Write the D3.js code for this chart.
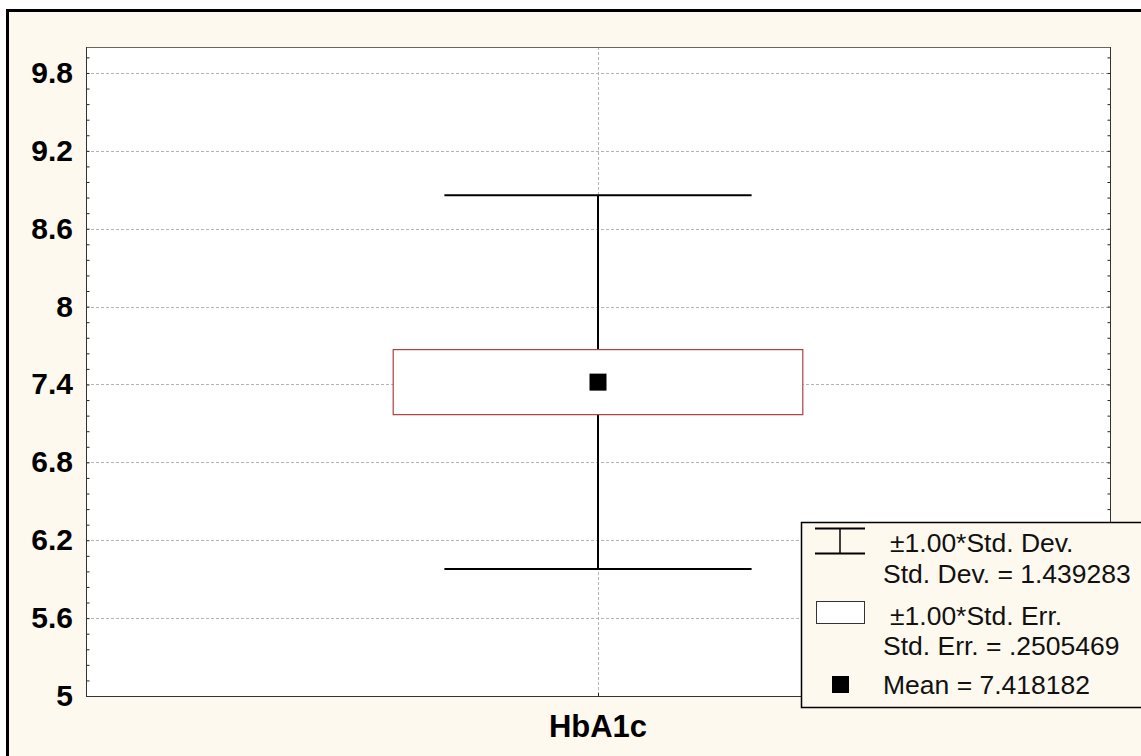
<!doctype html>
<html>
<head>
<meta charset="utf-8"/>
<title>HbA1c</title>
<style>
body{margin:0;background:#fff;}
svg{display:block;font-family:"Liberation Sans",Arial,sans-serif;}
</style>
<script src="https://d3js.org/d3.v7.min.js"></script>
</head>
<body>
<script>
// data
var categories = ["HbA1c"];
var means = [7.418182];
var stdDevs = [1.439283];
var stdErrs = [0.2505469];
var yTicks = [5, 5.6, 6.2, 6.8, 7.4, 8, 8.6, 9.2, 9.8];
var yDomain = [5, 10];

var W = 1141, H = 756;
var plot = {left: 86, top: 47, right: 1110, bottom: 696};

var svg = d3.select("body").append("svg")
  .attr("width", W).attr("height", H);

// outer cream frame
svg.append("rect")
  .attr("x", 7.5).attr("y", 10.5)
  .attr("width", W + 20).attr("height", H + 20)
  .attr("fill", "#fef9ef")
  .attr("stroke", "#000").attr("stroke-width", 3);

var y = d3.scaleLinear().domain(yDomain).range([plot.bottom, plot.top]);
var x = d3.scaleBand().domain(categories).range([plot.left, plot.right]);
var bw = x.bandwidth();
var cx = function(d){ return x(d) + bw / 2; };

svg.append("rect")
  .attr("x", plot.left).attr("y", plot.top)
  .attr("width", plot.right - plot.left).attr("height", plot.bottom - plot.top)
  .attr("fill", "#fff");

// grid
svg.append("g").selectAll("line")
  .data(yTicks.filter(function(d){ return d > yDomain[0]; }))
  .enter().append("line")
  .attr("x1", plot.left).attr("x2", plot.right)
  .attr("y1", function(d){ return Math.round(y(d)) + 0.5; })
  .attr("y2", function(d){ return Math.round(y(d)) + 0.5; })
  .attr("stroke", "#b4b4b4").attr("stroke-dasharray", "3,2");

svg.append("g").selectAll("line")
  .data(categories).enter().append("line")
  .attr("x1", function(d){ return Math.round(cx(d)) + 0.5; })
  .attr("x2", function(d){ return Math.round(cx(d)) + 0.5; })
  .attr("y1", plot.top).attr("y2", plot.bottom)
  .attr("stroke", "#b4b4b4").attr("stroke-dasharray", "3,2");

// axes (left, right with inside ticks)
var minor = d3.range(0, 42).map(function(i){ return +(5 + i * 0.12).toFixed(2); });

var left = d3.axisRight(y).tickValues(minor).tickSize(3).tickFormat("");
svg.append("g").attr("transform", "translate(" + (plot.left + 0.5) + ",0)").call(left)
  .call(function(g){ g.select(".domain").remove(); });
var right = d3.axisLeft(y).tickValues(minor).tickSize(3).tickFormat("");
svg.append("g").attr("transform", "translate(" + (plot.right + 0.5) + ",0)").call(right)
  .call(function(g){ g.select(".domain").remove(); });
svg.selectAll(".tick line").attr("stroke", "#222");

// frame of the plot area
svg.append("line").attr("x1", plot.left).attr("x2", plot.right)
  .attr("y1", plot.top + 0.5).attr("y2", plot.top + 0.5).attr("stroke", "#666");
svg.append("line").attr("x1", plot.left + 0.5).attr("x2", plot.left + 0.5)
  .attr("y1", plot.top).attr("y2", plot.bottom).attr("stroke", "#333");
svg.append("line").attr("x1", plot.right + 0.5).attr("x2", plot.right + 0.5)
  .attr("y1", plot.top).attr("y2", plot.bottom).attr("stroke", "#333");
svg.append("line").attr("x1", plot.left).attr("x2", plot.right)
  .attr("y1", plot.bottom + 0.5).attr("y2", plot.bottom + 0.5).attr("stroke", "#333");
// x tick
svg.selectAll(".xt").data(categories).enter().append("line")
  .attr("x1", function(d){ return Math.round(cx(d)) + 0.5; })
  .attr("x2", function(d){ return Math.round(cx(d)) + 0.5; })
  .attr("y1", plot.bottom - 3).attr("y2", plot.bottom)
  .attr("stroke", "#222");

// y tick labels
svg.append("g").selectAll("text")
  .data(yTicks).enter().append("text")
  .attr("x", 73)
  .attr("y", function(d){ return y(d) + 10; })
  .attr("text-anchor", "end")
  .attr("font-size", 30).attr("font-weight", "bold")
  .text(function(d){ return String(d); });

// x label
svg.append("g").selectAll("text")
  .data(categories).enter().append("text")
  .attr("x", cx).attr("y", 737)
  .attr("text-anchor", "middle")
  .attr("font-size", 31).attr("font-weight", "bold")
  .text(function(d){ return d; });

// whiskers (mean +/- sd)
var boxW = bw * 0.4, capW = bw * 0.3;
var wg = svg.append("g").selectAll("g").data(categories).enter().append("g");
wg.append("line")
  .attr("x1", cx).attr("x2", cx)
  .attr("y1", function(d, i){ return y(means[i] + stdDevs[i]); })
  .attr("y2", function(d, i){ return y(means[i] - stdDevs[i]); })
  .attr("stroke", "#000").attr("stroke-width", 2);
[1, -1].forEach(function(s){
  wg.append("line")
    .attr("x1", function(d){ return cx(d) - capW / 2; })
    .attr("x2", function(d){ return cx(d) + capW / 2; })
    .attr("y1", function(d, i){ return y(means[i] + s * stdDevs[i]); })
    .attr("y2", function(d, i){ return y(means[i] + s * stdDevs[i]); })
    .attr("stroke", "#000").attr("stroke-width", 2);
});

// box (mean +/- se)
wg.append("rect")
  .attr("x", function(d){ return cx(d) - boxW / 2; })
  .attr("y", function(d, i){ return y(means[i] + stdErrs[i]); })
  .attr("width", boxW)
  .attr("height", function(d, i){ return y(means[i] - stdErrs[i]) - y(means[i] + stdErrs[i]); })
  .attr("fill", "#fff").attr("stroke", "#b04040").attr("stroke-width", 1.2);

// mean square
wg.append("rect")
  .attr("x", function(d){ return cx(d) - 8.5; })
  .attr("y", function(d, i){ return y(means[i]) - 8.5; })
  .attr("width", 17).attr("height", 17)
  .attr("fill", "#000");

// legend
var lg = svg.append("g");
lg.append("rect")
  .attr("x", 801.5).attr("y", 522.5).attr("width", 400).attr("height", 185)
  .attr("fill", "#fef9ef").attr("stroke", "#000").attr("stroke-width", 1.5);

// whisker icon
lg.append("line").attr("x1", 815).attr("x2", 865).attr("y1", 528.5).attr("y2", 528.5).attr("stroke", "#000").attr("stroke-width", 2);
lg.append("line").attr("x1", 815).attr("x2", 865).attr("y1", 553.5).attr("y2", 553.5).attr("stroke", "#000").attr("stroke-width", 2);
lg.append("line").attr("x1", 840).attr("x2", 840).attr("y1", 528).attr("y2", 554).attr("stroke", "#000").attr("stroke-width", 1.5);
// box icon
lg.append("rect").attr("x", 816.5).attr("y", 601.5).attr("width", 48).attr("height", 22)
  .attr("fill", "#fff").attr("stroke", "#333").attr("stroke-width", 1);
// mean icon
lg.append("rect").attr("x", 832).attr("y", 676).attr("width", 17).attr("height", 17).attr("fill", "#000");

var legendLines = [
  {t: "\u00b11.00*Std. Dev.", x: 890, y: 552},
  {t: "Std. Dev. = " + stdDevs[0].toFixed(6), x: 883, y: 583},
  {t: "\u00b11.00*Std. Err.", x: 890, y: 625},
  {t: "Std. Err. = " + stdErrs[0].toFixed(7).replace(/^0/, ""), x: 883, y: 655},
  {t: "Mean = " + means[0].toFixed(6), x: 883, y: 694}
];
lg.selectAll("text").data(legendLines).enter().append("text")
  .attr("x", function(d){ return d.x; })
  .attr("y", function(d){ return d.y; })
  .attr("font-size", 26.5)
  .attr("fill", "#111")
  .text(function(d){ return d.t; });
</script>
</body>
</html>
